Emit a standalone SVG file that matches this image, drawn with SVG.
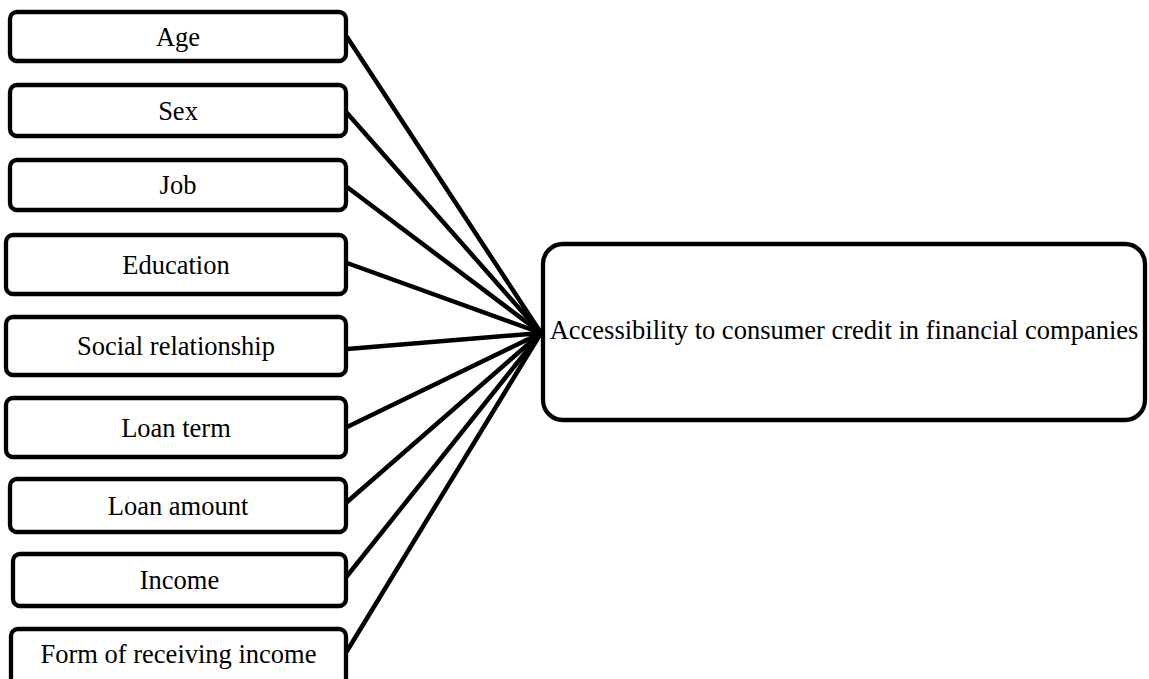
<svg xmlns="http://www.w3.org/2000/svg" width="1149" height="679" viewBox="0 0 1149 679">
<style>
.box{fill:#fff;stroke:#000;stroke-width:4.3}
.lbl{font-family:"Liberation Serif","Times New Roman",serif;font-size:26.5px;fill:#000;text-anchor:middle}
.conn line{stroke:#000;stroke-width:4.5;stroke-linecap:round}
</style>
<rect width="1149" height="679" fill="#fff"/>
<g id="connectors" class="conn">
<line x1="347" y1="37" x2="541" y2="333"/>
<line x1="347" y1="113" x2="541" y2="333"/>
<line x1="347" y1="187" x2="541" y2="333"/>
<line x1="347" y1="263" x2="541" y2="333"/>
<line x1="347" y1="349" x2="541" y2="333"/>
<line x1="347" y1="427" x2="541" y2="333"/>
<line x1="347" y1="502" x2="541" y2="333"/>
<line x1="347" y1="576" x2="541" y2="333"/>
<line x1="347" y1="651" x2="541" y2="333"/>
</g>
<g id="age"><rect class="box" x="10" y="12" width="336" height="49" rx="7"/><text class="lbl" x="178" y="45.5">Age</text></g>
<g id="sex"><rect class="box" x="10" y="85" width="336" height="51" rx="7"/><text class="lbl" x="178" y="119.5">Sex</text></g>
<g id="job"><rect class="box" x="10" y="160" width="336" height="50" rx="7"/><text class="lbl" x="178" y="194">Job</text></g>
<g id="education"><rect class="box" x="6" y="235" width="340" height="59" rx="7"/><text class="lbl" x="176" y="273.5">Education</text></g>
<g id="social"><rect class="box" x="6" y="317" width="340" height="58" rx="7"/><text class="lbl" x="176" y="355">Social relationship</text></g>
<g id="loan-term"><rect class="box" x="6" y="398" width="340" height="59" rx="7"/><text class="lbl" x="176" y="436.5">Loan term</text></g>
<g id="loan-amount"><rect class="box" x="10" y="479" width="336" height="53" rx="7"/><text class="lbl" x="178" y="514.5">Loan amount</text></g>
<g id="income"><rect class="box" x="13" y="554" width="333" height="52" rx="7"/><text class="lbl" x="179.5" y="589">Income</text></g>
<g id="form-income"><rect class="box" x="11" y="629" width="335" height="60" rx="7"/><text class="lbl" x="178.5" y="663">Form of receiving income</text></g>
<g id="target"><rect class="box" x="543" y="244" width="602" height="176" rx="20"/><text class="lbl" x="844" y="339">Accessibility to consumer credit in financial companies</text></g>
</svg>
